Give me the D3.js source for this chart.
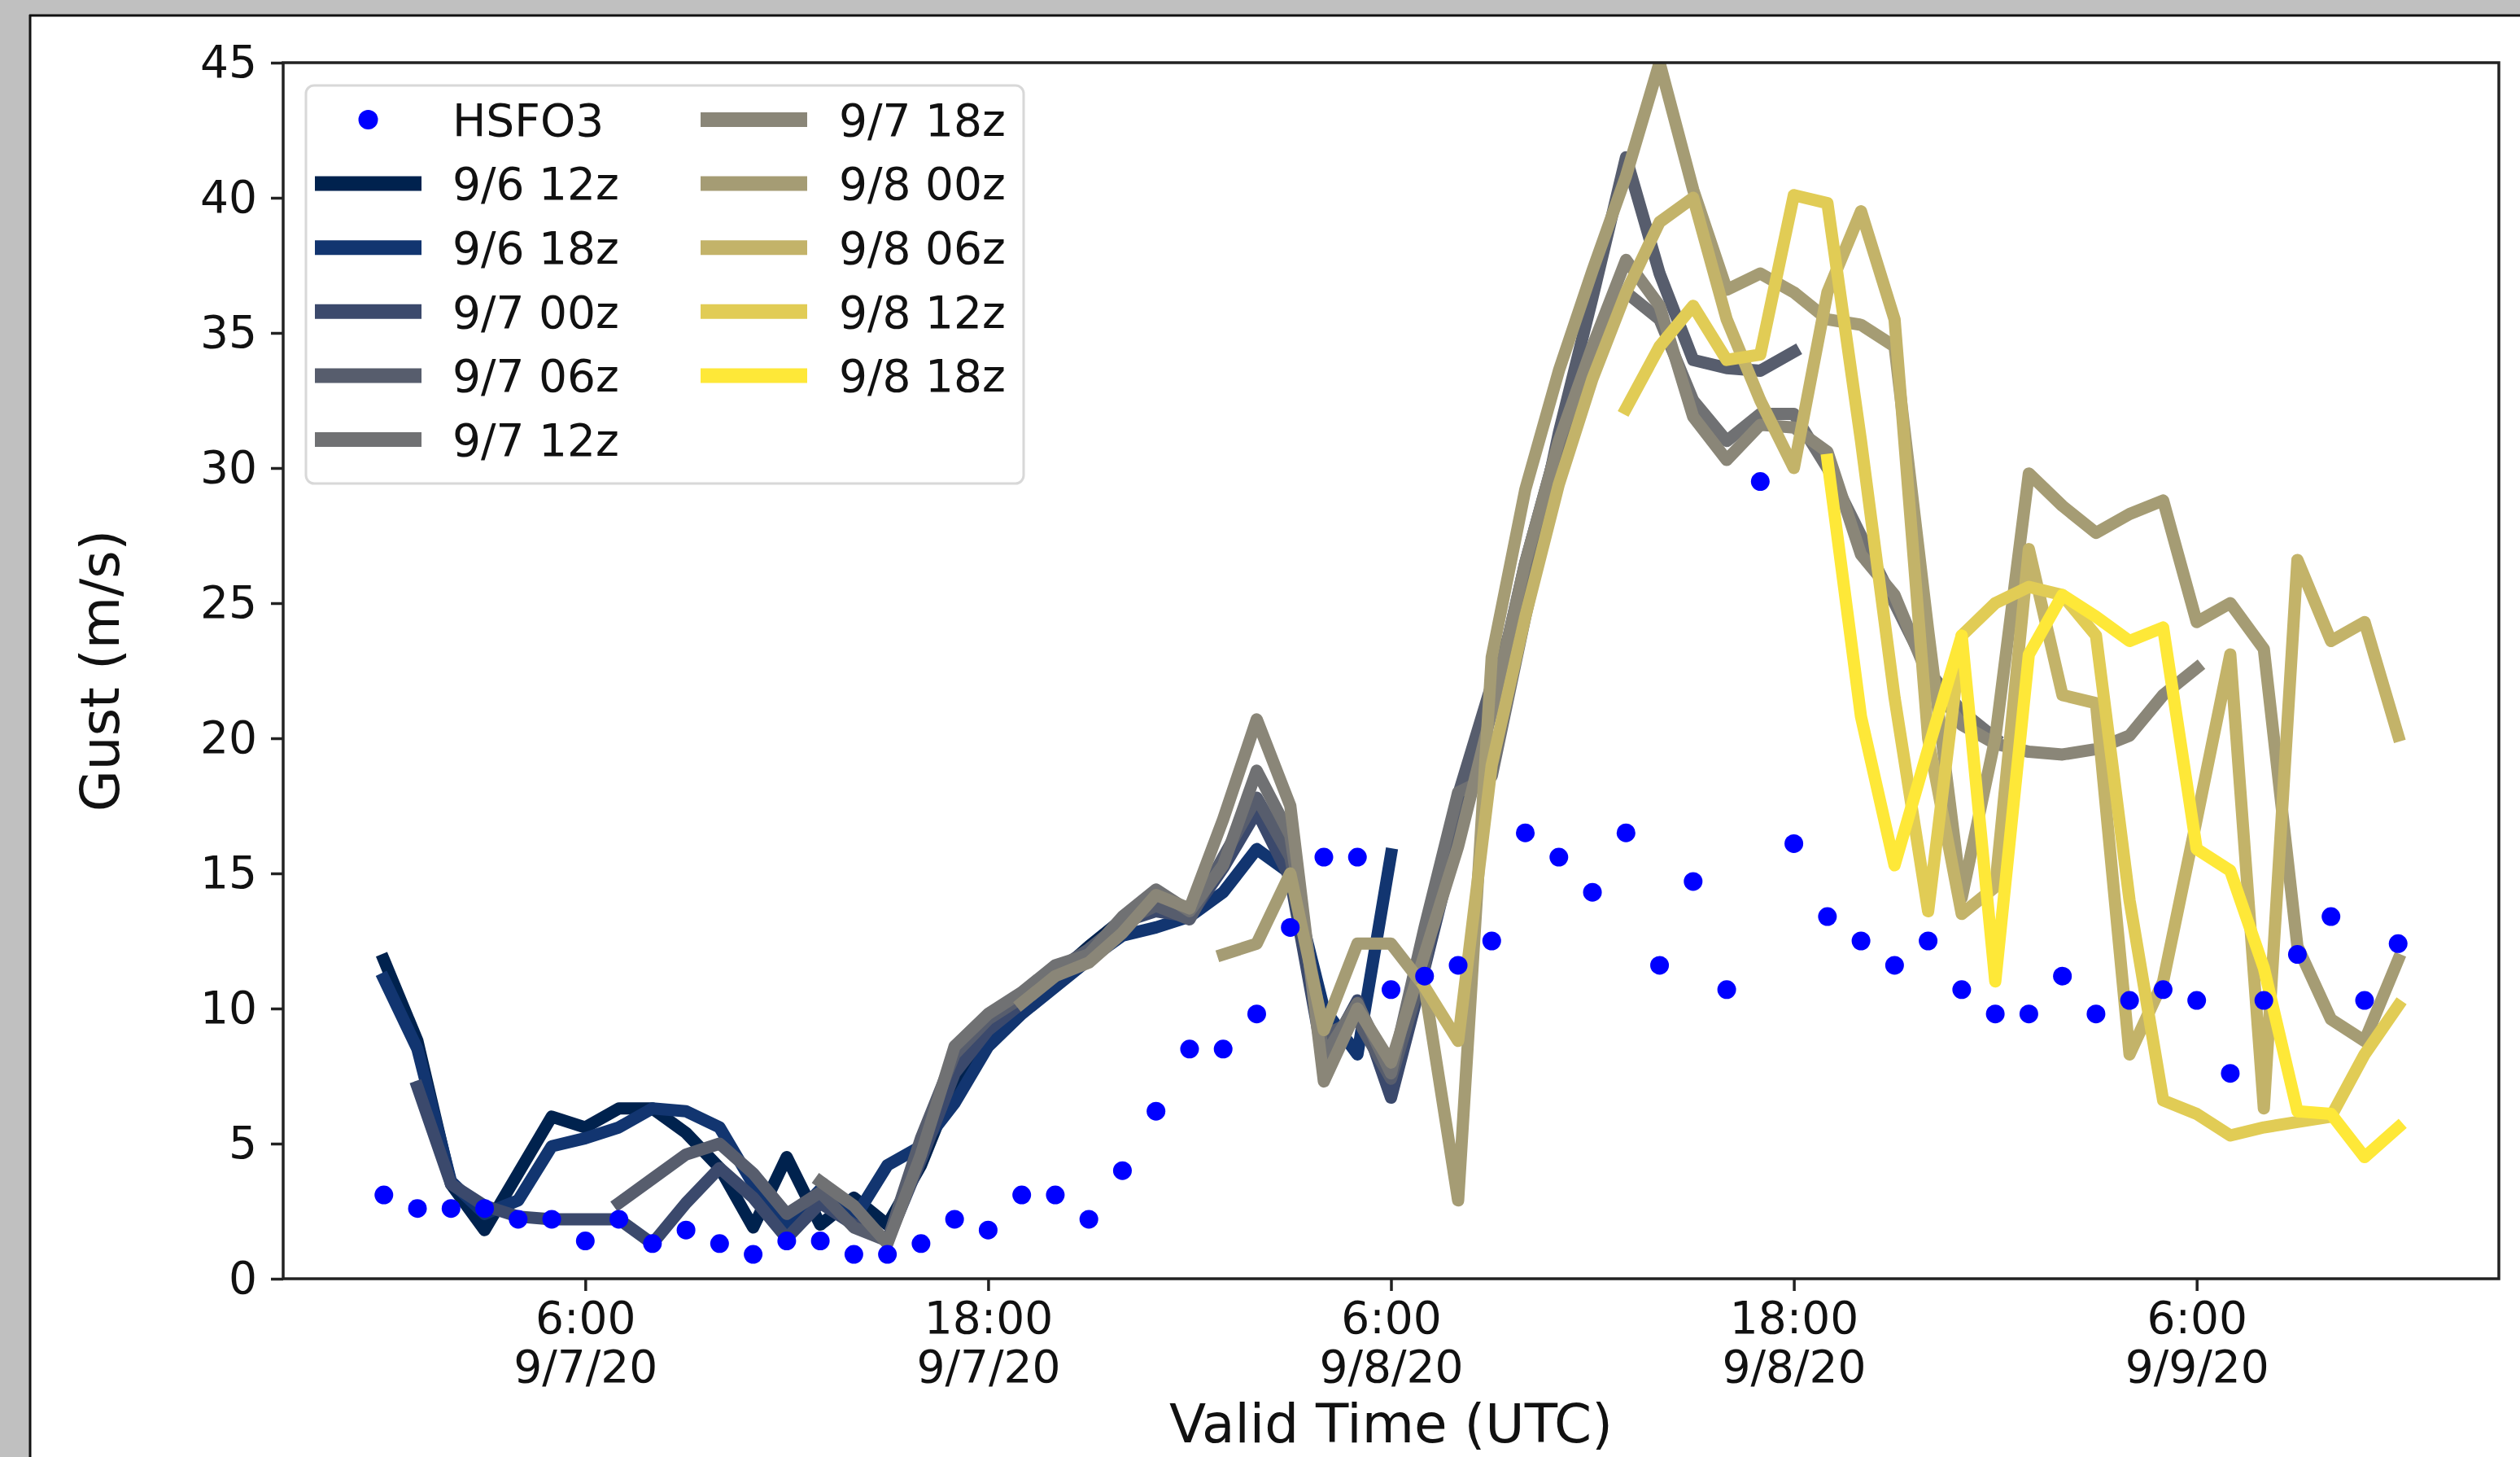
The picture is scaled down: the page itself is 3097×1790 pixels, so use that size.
<!DOCTYPE html>
<html><head><meta charset="utf-8">
<script src="https://cdn.jsdelivr.net/npm/d3@7"></script>
<style>body{margin:0;background:#c0c0c0}svg{display:block}</style>
</head><body>
<svg id="chart" width="3097" height="1790"></svg>
<script>
// ---------------- data ----------------
// Observed gusts at HSFO3, hourly from 9/7/20 00 UTC to 9/9/20 12 UTC (m/s)
const obsHsfo3 = [3.1, 2.6, 2.6, 2.6, 2.2, 2.2, 1.4, 2.2, 1.3, 1.8,
  1.3, 0.9, 1.4, 1.4, 0.9, 0.9, 1.3, 2.2, 1.8, 3.1,
  3.1, 2.2, 4.0, 6.2, 8.5, 8.5, 9.8, 13.0, 15.6, 15.6,
  10.7, 11.2, 11.6, 12.5, 16.5, 15.6, 14.3, 16.5, 11.6, 14.7,
  10.7, 29.5, 16.1, 13.4, 12.5, 11.6, 12.5, 10.7, 9.8, 9.8,
  11.2, 9.8, 10.3, 10.7, 10.3, 7.6, 10.3, 12.0, 13.4, 10.3, 12.4];

// Forecast runs (label, first valid hour after 9/7 00 UTC, hourly values)
const runLabels = ["9/6 12z", "9/6 18z", "9/7 00z", "9/7 06z", "9/7 12z",
  "9/7 18z", "9/8 00z", "9/8 06z", "9/8 12z", "9/8 18z"];
const runStartHour = [0, 0, 1, 7, 13, 19, 25, 31, 37, 43];

const run0612 = [11.8, 8.8, 3.5, 1.8, 3.9, 6.0, 5.6, 6.3, 6.3, 5.4, 4.1, 1.9, 4.5, 2.0, 3.0,
  2.0, 4.2, 7.3, 8.8, 10.0, 11.2, 12.3, 13.3, 13.8, 13.5];
const run0618 = [11.1, 8.5, 3.6, 2.4, 2.9, 4.9, 5.2, 5.6, 6.3, 6.2, 5.6, 3.5, 2.0, 3.3, 2.2,
  4.2, 4.9, 6.5, 8.6, 9.8, 10.8, 11.8, 12.7, 13.0, 13.4, 14.3, 15.9, 15.0, 10.0, 8.3, 15.7];
const run0700 = [7.1, 3.5, 2.7, 2.3, 2.2, 2.2, 2.2, 1.3, 2.8, 4.1, 3.0, 1.5, 2.8, 2.0, 1.4,
  4.4, 7.6, 9.2, 10.2, 11.2, 12.0, 13.2, 13.6, 13.4, 15.2, 17.3, 14.8, 8.0, 10.3, 6.7,
  11.5, 16.5, 21.0, 26.5, 31.0, 34.0];
const run0706 = [2.8, 3.7, 4.6, 5.0, 3.9, 2.4, 3.2, 1.9, 1.4, 5.2, 8.3, 9.6, 10.4, 11.4, 12.2,
  13.2, 13.8, 13.3, 15.6, 17.8, 15.6, 9.0, 9.6, 7.4, 11.6, 17.9, 22.0, 25.5, 31.3, 36.3,
  41.5, 37.2, 34.0, 33.7, 33.6, 34.3];
const run0712 = [3.6, 2.7, 1.3, 4.6, 8.6, 9.8, 10.6, 11.6, 12.0, 13.4, 14.4, 13.6, 15.3, 18.8, 16.4,
  8.2, 10.2, 7.6, 13.0, 18.0, 18.6, 24.5, 30.0, 34.0, 36.5, 35.5, 32.5, 31.0, 32.0, 32.0,
  30.0, 27.5, 25.0, 22.5, 21.0, 20.0];
const run0718 = [10.2, 11.2, 11.7, 12.8, 14.2, 13.7, 17.0, 20.7, 17.5, 7.3, 10.0, 8.0, 12.0, 16.0, 21.0,
  26.5, 31.0, 34.5, 37.7, 36.0, 31.9, 30.3, 31.6, 31.5, 30.6, 26.8, 25.3, 22.3, 20.5, 19.8,
  19.5, 19.4, 19.6, 20.1, 21.6, 22.6];
const run0800 = [12.0, 12.4, 15.0, 9.2, 12.4, 12.4, 10.8, 2.9, 23.0, 29.2, 33.6, 37.3, 40.8, 45.0, 40.3,
  36.6, 37.2, 36.5, 35.5, 35.3, 34.5, 24.0, 14.1, 20.0, 29.8, 28.6, 27.6, 28.3, 28.8, 24.3,
  25.0, 23.3, 12.3, 9.6, 8.8, 11.8];
const run0806 = [10.8, 8.8, 19.0, 24.5, 29.4, 33.3, 36.5, 39.1, 40.0, 35.5, 32.5, 30.0, 36.5, 39.5, 35.5,
  20.0, 13.5, 14.5, 27.0, 21.6, 21.3, 8.3, 11.0, 17.0, 23.1, 6.3, 26.6, 23.6, 24.3, 20.1];
const run0812 = [32.2, 34.5, 36.0, 34.0, 34.2, 40.1, 39.8, 31.0, 21.5, 13.6, 23.8, 25.0, 25.6, 25.3, 23.8,
  14.0, 6.6, 6.1, 5.3, 5.6, 5.8, 6.0, 8.3, 10.1];
const run0818 = [30.3, 20.8, 15.3, 19.6, 23.8, 11.0, 23.1, 25.3, 24.5, 23.6, 24.1, 15.9, 15.1, 11.5, 6.2,
  6.1, 4.5, 5.6];

const runValues = [run0612, run0618, run0700, run0706, run0712, run0718, run0800, run0806, run0812, run0818];
const runColors = ["#00224e", "#123570", "#3b496c", "#575d6d", "#707173",
  "#8a8678", "#a59c74", "#c3b369", "#e1cc55", "#fee838"];

const xTickTimes = ["6:00", "18:00", "6:00", "18:00", "6:00"];
const xTickDates = ["9/7/20", "9/7/20", "9/8/20", "9/8/20", "9/9/20"];
const xTickHours = [6, 18, 30, 42, 54];
const yTicks = [0, 5, 10, 15, 20, 25, 30, 35, 40, 45];

// ---------------- drawing ----------------
const FONT = "DejaVu Sans, Liberation Sans, sans-serif";
const W = 3097, H = 1790;
const svg = d3.select("#chart");
const base = Date.UTC(2020, 8, 7, 0);
const toDate = h => new Date(base + h * 3600e3);

// frame (screenshot border)
svg.append("rect").attr("width", W).attr("height", H).attr("fill", "#c0c0c0");
svg.append("rect").attr("x", 37).attr("y", 19).attr("width", W - 37).attr("height", H - 19).attr("fill", "#ffffff");
svg.append("line").attr("x1", 36).attr("x2", W).attr("y1", 19).attr("y2", 19).attr("stroke", "#111").attr("stroke-width", 3);
svg.append("line").attr("x1", 37).attr("x2", 37).attr("y1", 18).attr("y2", H).attr("stroke", "#111").attr("stroke-width", 3);

const plot = {left: 348, right: 3071, top: 77, bottom: 1571};
const x = d3.scaleUtc()
  .domain([new Date(Date.UTC(2020, 8, 6, 21)), new Date(Date.UTC(2020, 8, 9, 15))])
  .range([plot.left, plot.right]);
const y = d3.scaleLinear().domain([0, 45]).range([plot.bottom, plot.top]);

svg.append("defs").append("clipPath").attr("id", "clip")
  .append("rect").attr("x", plot.left).attr("y", plot.top)
  .attr("width", plot.right - plot.left).attr("height", plot.bottom - plot.top);

const g = svg.append("g").attr("clip-path", "url(#clip)");

// forecast lines
const line = d3.line().x(d => x(d.t)).y(d => y(d.v)).curve(d3.curveLinear);
runValues.forEach((vals, i) => {
  const pts = vals.map((v, k) => ({t: toDate(runStartHour[i] + k), v}));
  g.append("path").datum(pts)
    .attr("d", line)
    .attr("fill", "none")
    .attr("stroke", runColors[i])
    .attr("stroke-width", 15)
    .attr("stroke-linejoin", "round")
    .attr("stroke-linecap", "square");
});

// observations
g.selectAll("circle.obs").data(obsHsfo3).enter().append("circle")
  .attr("class", "obs")
  .attr("cx", (v, k) => x(toDate(k)))
  .attr("cy", v => y(v))
  .attr("r", 11.5)
  .attr("fill", "#0000ff");

// axes
const yAxis = d3.axisLeft(y).tickValues(yTicks).tickSize(15).tickPadding(17).tickFormat(d3.format("d"));
const xAxis = d3.axisBottom(x).tickValues(xTickHours.map(toDate)).tickSize(15).tickPadding(10).tickFormat(() => "");

const gy = svg.append("g").attr("transform", `translate(${plot.left},0)`).call(yAxis);
const gx = svg.append("g").attr("transform", `translate(0,${plot.bottom})`).call(xAxis);
[gx, gy].forEach(a => {
  a.select(".domain").remove();
  a.selectAll(".tick line").attr("stroke", "#222").attr("stroke-width", 3.5);
});
gy.selectAll(".tick text").attr("font-family", FONT).attr("font-size", 55).attr("fill", "#111");

gx.selectAll(".tick text").each(function (d, i) {
  const t = d3.select(this).text(null).attr("font-family", FONT).attr("font-size", 55).attr("fill", "#111").attr("y", 0).attr("dy", null);
  t.append("tspan").attr("x", 0).attr("y", 67).text(xTickTimes[i]);
  t.append("tspan").attr("x", 0).attr("y", 127).text(xTickDates[i]);
});

// spines
svg.append("rect").attr("x", plot.left).attr("y", plot.top)
  .attr("width", plot.right - plot.left).attr("height", plot.bottom - plot.top)
  .attr("fill", "none").attr("stroke", "#222").attr("stroke-width", 3.5);

// axis labels
svg.append("text").attr("x", (plot.left + plot.right) / 2).attr("y", 1772)
  .attr("text-anchor", "middle").attr("font-family", FONT).attr("font-size", 66).attr("fill", "#111")
  .text("Valid Time (UTC)");
svg.append("text").attr("transform", `translate(146,${(plot.top + plot.bottom) / 2}) rotate(-90)`)
  .attr("text-anchor", "middle").attr("font-family", FONT).attr("font-size", 66).attr("fill", "#111")
  .text("Gust (m/s)");

// legend
const lg = svg.append("g");
lg.append("rect").attr("x", 376).attr("y", 105).attr("width", 882).attr("height", 489).attr("rx", 10)
  .attr("fill", "#ffffff").attr("fill-opacity", 0.85).attr("stroke", "#d8d8d8").attr("stroke-width", 3);
const entries = [{label: "HSFO3", type: "dot", color: "#0000ff"}]
  .concat(runLabels.map((l, i) => ({label: l, type: "line", color: runColors[i]})));
const rowY0 = 147, rowStep = 78.6;
const colX = [{l0: 387, l1: 518, tx: 556}, {l0: 861, l1: 992, tx: 1031}];
entries.forEach((e, i) => {
  const col = i < 6 ? 0 : 1, row = i < 6 ? i : i - 6;
  const cy = rowY0 + row * rowStep, c = colX[col];
  if (e.type === "dot") {
    lg.append("circle").attr("cx", (c.l0 + c.l1) / 2).attr("cy", cy).attr("r", 12).attr("fill", e.color);
  } else {
    lg.append("line").attr("x1", c.l0).attr("x2", c.l1).attr("y1", cy).attr("y2", cy)
      .attr("stroke", e.color).attr("stroke-width", 18);
  }
  lg.append("text").attr("x", c.tx).attr("y", cy).attr("dy", "0.36em")
    .attr("font-family", FONT).attr("font-size", 55).attr("fill", "#111").text(e.label);
});
</script>
</body></html>
